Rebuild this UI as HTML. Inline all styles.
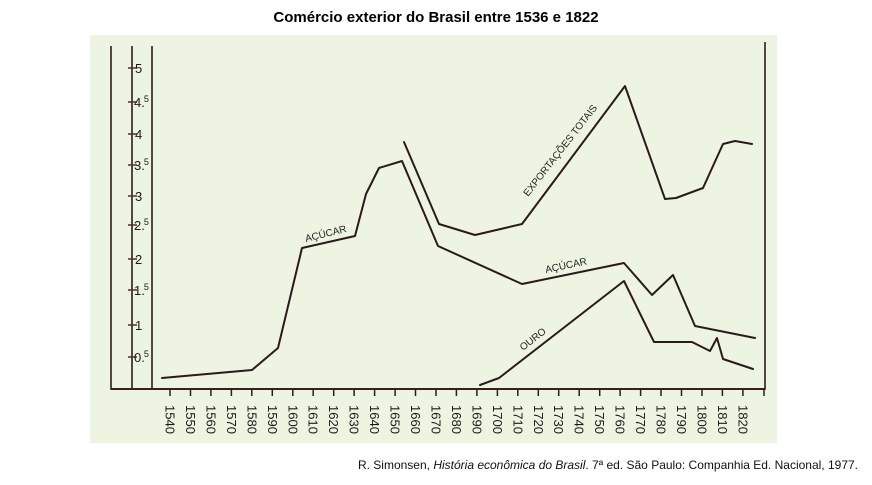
<!DOCTYPE html>
<html><head><meta charset="utf-8"><style>
html,body{margin:0;padding:0;background:#fff;}
body{width:872px;height:480px;overflow:hidden;font-family:"Liberation Sans",sans-serif;}
</style></head><body>
<svg width="872" height="480" viewBox="0 0 872 480" xmlns="http://www.w3.org/2000/svg" font-family="Liberation Sans, sans-serif">
<rect x="0" y="0" width="872" height="480" fill="#ffffff"/>
<text x="436" y="22" text-anchor="middle" font-size="15" font-weight="bold" fill="#000">Comércio exterior do Brasil entre 1536 e 1822</text>
<rect x="90" y="35" width="687" height="408" fill="#eef4e2"/>
<!-- frame -->
<g stroke="#2a1c1c" stroke-width="1.6" fill="none">
<line x1="111" y1="46" x2="111" y2="389.5"/>
<line x1="132" y1="46" x2="132" y2="389.5"/>
<line x1="152" y1="46" x2="152" y2="389.5"/>
<line x1="765" y1="42" x2="765" y2="389.5"/>
<line x1="110.5" y1="389" x2="765.5" y2="389" stroke="#3a1e22" stroke-width="2"/>
</g>
<!-- y ticks -->
<g stroke="#5a2a33" stroke-width="1.5">
<line x1="128" y1="68" x2="137" y2="68"/>
<line x1="128" y1="102" x2="137" y2="102"/>
<line x1="128" y1="134" x2="137" y2="134"/>
<line x1="128" y1="165" x2="137" y2="165"/>
<line x1="128" y1="196" x2="137" y2="196"/>
<line x1="128" y1="225" x2="137" y2="225"/>
<line x1="128" y1="259" x2="137" y2="259"/>
<line x1="128" y1="290" x2="137" y2="290"/>
<line x1="128" y1="325" x2="137" y2="325"/>
<line x1="128" y1="357" x2="137" y2="357"/>
</g>
<g font-size="13" fill="#1a1a1a">
<text x="135" y="73">5</text>
<text x="134" y="107">4.<tspan font-size="9" dx="-1" dy="-5">5</tspan></text>
<text x="135" y="139">4</text>
<text x="134" y="170">3.<tspan font-size="9" dx="-1" dy="-5">5</tspan></text>
<text x="135" y="201">3</text>
<text x="134" y="230">2.<tspan font-size="9" dx="-1" dy="-5">5</tspan></text>
<text x="135" y="264">2</text>
<text x="134" y="295">1.<tspan font-size="9" dx="-1" dy="-5">5</tspan></text>
<text x="135" y="330">1</text>
<text x="134" y="362">0.<tspan font-size="9" dx="-1" dy="-5">5</tspan></text>
</g>
<!-- x ticks -->
<g stroke="#2a1c1c" stroke-width="1.5">
<line x1="170" y1="389" x2="170" y2="396"/><line x1="190.5" y1="389" x2="190.5" y2="396"/><line x1="210.9" y1="389" x2="210.9" y2="396"/><line x1="231.4" y1="389" x2="231.4" y2="396"/><line x1="251.8" y1="389" x2="251.8" y2="396"/><line x1="272.3" y1="389" x2="272.3" y2="396"/><line x1="292.8" y1="389" x2="292.8" y2="396"/><line x1="313.2" y1="389" x2="313.2" y2="396"/><line x1="333.7" y1="389" x2="333.7" y2="396"/><line x1="354.1" y1="389" x2="354.1" y2="396"/><line x1="374.6" y1="389" x2="374.6" y2="396"/><line x1="395.1" y1="389" x2="395.1" y2="396"/><line x1="415.5" y1="389" x2="415.5" y2="396"/><line x1="436" y1="389" x2="436" y2="396"/><line x1="456.4" y1="389" x2="456.4" y2="396"/><line x1="476.9" y1="389" x2="476.9" y2="396"/><line x1="497.4" y1="389" x2="497.4" y2="396"/><line x1="517.8" y1="389" x2="517.8" y2="396"/><line x1="538.3" y1="389" x2="538.3" y2="396"/><line x1="558.7" y1="389" x2="558.7" y2="396"/><line x1="579.2" y1="389" x2="579.2" y2="396"/><line x1="599.7" y1="389" x2="599.7" y2="396"/><line x1="620.1" y1="389" x2="620.1" y2="396"/><line x1="640.6" y1="389" x2="640.6" y2="396"/><line x1="661" y1="389" x2="661" y2="396"/><line x1="681.5" y1="389" x2="681.5" y2="396"/><line x1="702" y1="389" x2="702" y2="396"/><line x1="722.4" y1="389" x2="722.4" y2="396"/><line x1="742.9" y1="389" x2="742.9" y2="396"/><line x1="764" y1="389" x2="764" y2="396"/>
</g>
<g font-size="13" fill="#1a1a1a" dominant-baseline="central">
<text transform="translate(170,405) rotate(90)">1540</text>
<text transform="translate(190.5,405) rotate(90)">1550</text>
<text transform="translate(210.9,405) rotate(90)">1560</text>
<text transform="translate(231.4,405) rotate(90)">1570</text>
<text transform="translate(251.8,405) rotate(90)">1580</text>
<text transform="translate(272.3,405) rotate(90)">1590</text>
<text transform="translate(292.8,405) rotate(90)">1600</text>
<text transform="translate(313.2,405) rotate(90)">1610</text>
<text transform="translate(333.7,405) rotate(90)">1620</text>
<text transform="translate(354.1,405) rotate(90)">1630</text>
<text transform="translate(374.6,405) rotate(90)">1640</text>
<text transform="translate(395.1,405) rotate(90)">1650</text>
<text transform="translate(415.5,405) rotate(90)">1660</text>
<text transform="translate(436,405) rotate(90)">1670</text>
<text transform="translate(456.4,405) rotate(90)">1680</text>
<text transform="translate(476.9,405) rotate(90)">1690</text>
<text transform="translate(497.4,405) rotate(90)">1700</text>
<text transform="translate(517.8,405) rotate(90)">1710</text>
<text transform="translate(538.3,405) rotate(90)">1720</text>
<text transform="translate(558.7,405) rotate(90)">1730</text>
<text transform="translate(579.2,405) rotate(90)">1740</text>
<text transform="translate(599.7,405) rotate(90)">1750</text>
<text transform="translate(620.1,405) rotate(90)">1760</text>
<text transform="translate(640.6,405) rotate(90)">1770</text>
<text transform="translate(661,405) rotate(90)">1780</text>
<text transform="translate(681.5,405) rotate(90)">1790</text>
<text transform="translate(702,405) rotate(90)">1800</text>
<text transform="translate(722.4,405) rotate(90)">1810</text>
<text transform="translate(742.9,405) rotate(90)">1820</text>
</g>
<!-- series -->
<g stroke="#2a1a1c" stroke-width="2" fill="none" stroke-linejoin="round" stroke-linecap="round">
<polyline points="162,378 252,370 278,348 302,248 355,236 366,194 379,168 402,161 438,246 522,284 624,263 652,295 673,275 695,326 720,331 755,338"/>
<polyline points="404,142 439,224 475,235 522,224 625,86 665,199 676,198 703,188 723,144 735,141 752,144"/>
<polyline points="480,385 499,378 624,281 654,342 692,342 710,351 717,338 723,359 753,369"/>
</g>
<g font-size="10" fill="#222">
<text transform="translate(306,242) rotate(-14)">AÇÚCAR</text>
<text transform="translate(546,273) rotate(-12)">AÇÚCAR</text>
<text transform="translate(523,351) rotate(-38)">OURO</text>
<text transform="translate(528,197) rotate(-52)">EXPORTAÇÕES TOTAIS</text>
</g>
<text x="858" y="469" text-anchor="end" font-size="12" fill="#111">R. Simonsen, <tspan font-style="italic">História econômica do Brasil</tspan>. 7ª ed. São Paulo: Companhia Ed. Nacional, 1977.</text>
</svg>
</body></html>
